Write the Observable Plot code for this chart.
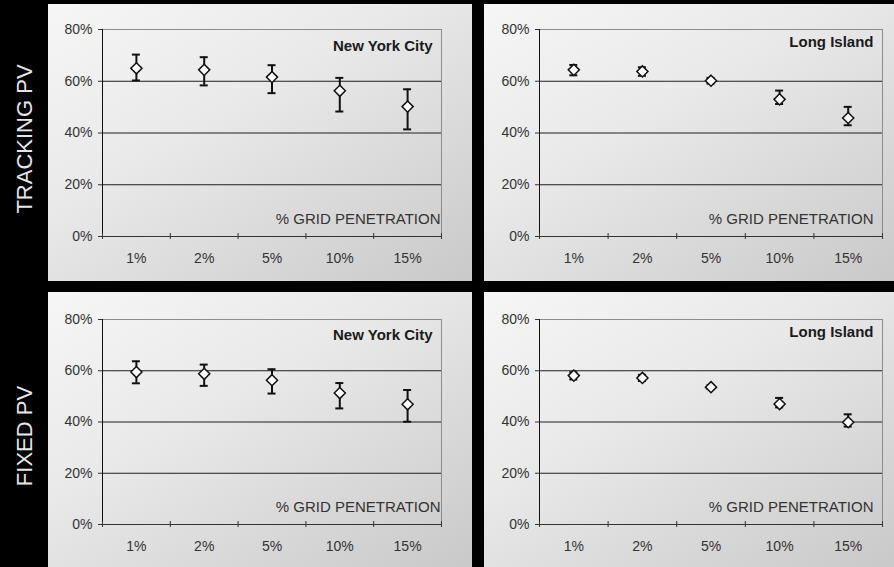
<!DOCTYPE html>
<html>
<head>
<meta charset="utf-8">
<script src="https://cdn.jsdelivr.net/npm/d3@7"></script>
<script src="https://cdn.jsdelivr.net/npm/@observablehq/plot@0.6"></script>
<style>
  html, body { margin: 0; padding: 0; background: #000; }
  #root { position: relative; width: 894px; height: 567px; background: #000; overflow: hidden; font-family: Arial, "Liberation Sans", sans-serif; }
  .panel { position: absolute; background: linear-gradient(150deg, #f6f6f6 0%, #e9e9e9 40%, #d9d9d9 70%, #c9c9c9 100%); }
  .rowlabel { position: absolute; color: #e6e6e6; font-size: 22px; white-space: nowrap; transform: translate(-50%, -50%) rotate(-90deg); font-family: Arial, "Liberation Sans", sans-serif; }
</style>
</head>
<body>
<div id="root"></div>
<script>
const categories = ["1%", "2%", "5%", "10%", "15%"];
const yTicks = [0, 20, 40, 60, 80];
const rowLabels = ["TRACKING PV", "FIXED PV"];
const regionTitles = ["New York City", "Long Island"];
const xAxisTitle = "% GRID PENETRATION";

// Tracking PV, New York City
const nycTrackMean = [65.0, 64.4, 61.6, 56.3, 50.2];
const nycTrackHigh = [70.3, 69.3, 66.2, 61.3, 56.9];
const nycTrackLow  = [60.3, 58.4, 55.4, 48.3, 41.4];
// Tracking PV, Long Island
const liTrackMean = [64.4, 63.8, 60.2, 53.0, 45.8];
const liTrackHigh = [66.3, 65.4, 61.3, 56.4, 50.1];
const liTrackLow  = [62.3, 62.1, 59.1, 51.2, 43.0];
// Fixed PV, New York City
const nycFixedMean = [59.5, 58.8, 56.3, 51.3, 46.9];
const nycFixedHigh = [63.7, 62.4, 60.6, 55.2, 52.5];
const nycFixedLow  = [55.1, 54.1, 51.1, 45.3, 40.1];
// Fixed PV, Long Island
const liFixedMean = [58.1, 57.2, 53.6, 47.0, 39.9];
const liFixedHigh = [59.4, 58.4, 54.3, 49.4, 43.0];
const liFixedLow  = [56.6, 56.0, 52.9, 45.7, 38.2];

const root = document.getElementById("root");

function makePanel(cfg) {
  const data = categories.map((c, i) => ({
    c, x: i + 0.5, m: cfg.mean[i], hi: cfg.high[i], lo: cfg.low[i]
  }));
  const bounds = d3.range(categories.length + 1);
  const n = categories.length;
  const chart = Plot.plot({
    width: cfg.w,
    height: cfg.h,
    marginTop: cfg.mt,
    marginBottom: cfg.mb,
    marginLeft: cfg.ml,
    marginRight: cfg.mr,
    style: {background: "transparent", fontFamily: "Arial, 'Liberation Sans', sans-serif", fontSize: "14px", color: "#333", overflow: "visible"},
    x: {domain: [0, n], axis: null},
    y: {domain: [0, 80], ticks: yTicks, tickSize: 4, tickPadding: 6, tickFormat: d => d + "%", label: null},
    marks: [
      Plot.ruleY([20, 40, 60], {stroke: "#1e1e1e", strokeWidth: 1}),
      Plot.ruleY([80], {stroke: "#8c8c8c"}),
      Plot.ruleX([n], {y1: 0, y2: 80, stroke: "#8c8c8c"}),
      Plot.ruleX([0], {y1: 0, y2: 80, stroke: "#111"}),
      Plot.ruleY([0], {stroke: "#333"}),
      Plot.ruleX(bounds, {x: d => d, y1: 0, y2: 0, insetTop: -3, insetBottom: -3, stroke: "#333"}),
      Plot.text(data, {x: "x", y: 0, text: "c", dy: 22, fill: "#333", fontSize: 14}),
      Plot.text([cfg.title], {frameAnchor: "top-right", text: d => d, dx: -cfg.titleInset, dy: cfg.titleDy, lineAnchor: "middle", fontWeight: "bold", fontSize: 15, fill: "#1a1a1a"}),
      Plot.text([xAxisTitle], {frameAnchor: "bottom-right", text: d => d, dx: -cfg.labelInset, dy: -17, lineAnchor: "middle", fontSize: 15, fill: "#333"}),
      Plot.ruleX(data, {x: "x", y1: "lo", y2: "hi", stroke: "#111", strokeWidth: 2}),
      Plot.ruleY(data, {y: "hi", x1: "x", x2: "x", insetLeft: -4, insetRight: -4, stroke: "#111", strokeWidth: 2}),
      Plot.ruleY(data, {y: "lo", x1: "x", x2: "x", insetLeft: -4, insetRight: -4, stroke: "#111", strokeWidth: 2}),
      Plot.dot(data, {x: "x", y: "m", symbol: "diamond2", r: 5, fill: "white", stroke: "#111", strokeWidth: 1.5})
    ]
  });
  const div = document.createElement("div");
  div.className = "panel";
  div.style.left = cfg.left + "px";
  div.style.top = cfg.top + "px";
  div.style.width = cfg.w + "px";
  div.style.height = cfg.h + "px";
  div.appendChild(chart);
  root.appendChild(div);
}

const leftCol = {left: 48, w: 424, ml: 54, mr: 31, labelInset: 1};
const rightCol = {left: 484, w: 410, ml: 55, mr: 12, labelInset: 9};
const topRow = {top: 4, h: 277, mt: 25, mb: 45};
const botRow = {top: 292, h: 275, mt: 27, mb: 43};

makePanel({...leftCol, ...topRow, mean: nycTrackMean, high: nycTrackHigh, low: nycTrackLow, title: regionTitles[0], titleInset: 9, titleDy: 17});
makePanel({...rightCol, ...topRow, mean: liTrackMean, high: liTrackHigh, low: liTrackLow, title: regionTitles[1], titleInset: 9, titleDy: 13});
makePanel({...leftCol, ...botRow, mean: nycFixedMean, high: nycFixedHigh, low: nycFixedLow, title: regionTitles[0], titleInset: 9, titleDy: 16});
makePanel({...rightCol, ...botRow, mean: liFixedMean, high: liFixedHigh, low: liFixedLow, title: regionTitles[1], titleInset: 9, titleDy: 13});

[[rowLabels[0], 139], [rowLabels[1], 436]].forEach(([t, cy]) => {
  const el = document.createElement("div");
  el.className = "rowlabel";
  el.textContent = t;
  el.style.left = "25px";
  el.style.top = cy + "px";
  root.appendChild(el);
});
</script>
</body>
</html>
